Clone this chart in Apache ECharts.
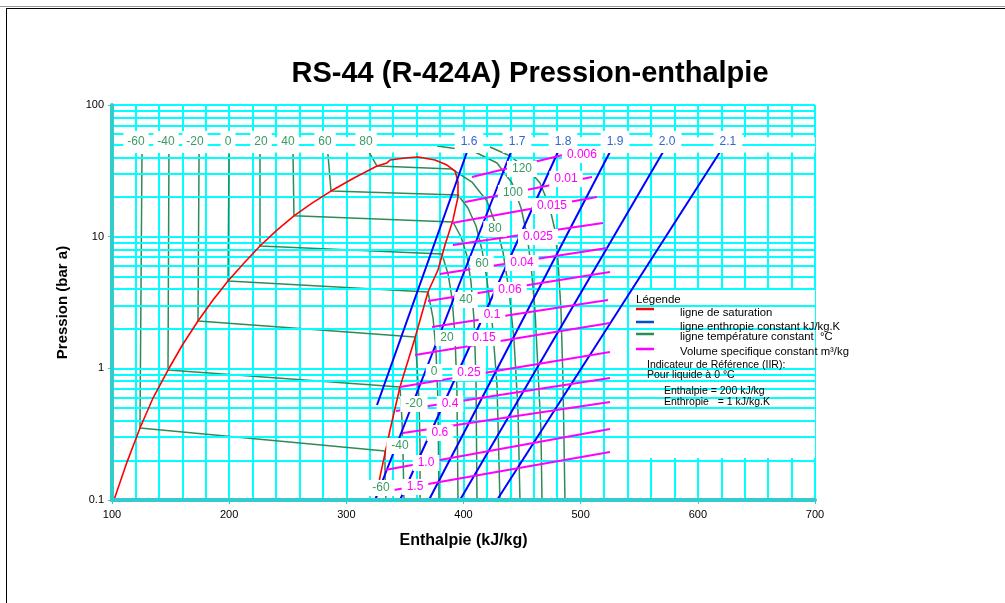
<!DOCTYPE html>
<html><head><meta charset="utf-8">
<script src="https://cdn.jsdelivr.net/npm/echarts/dist/echarts.min.js"></script>
<style>
html,body{margin:0;padding:0;background:#fff;}
#wrap{position:relative;width:1005px;height:603px;overflow:hidden;background:#fff;}
#chart{position:absolute;left:0;top:0;width:1005px;height:603px;}
#topline{position:absolute;left:0;top:6px;width:1005px;height:1px;background:#9a9a9a;}
#frame{position:absolute;left:6px;top:8px;width:1200px;height:800px;border-left:1.5px solid #000;border-top:1.5px solid #000;pointer-events:none;}
</style></head>
<body>
<div id="wrap"><div id="chart"></div><div id="topline"></div><div id="frame"></div></div>
<script>
// ---------------- DATA ----------------
const enthalpyTicks = [100, 200, 300, 400, 500, 600, 700];
const pressureTicks = [0.1, 1, 10, 100];
const pressureGrid = [0.2,0.3,0.4,0.5,0.6,0.7,0.8,0.9,1,2,3,4,5,6,7,8,9,10,20,30,40,50,60,70,80,90,100];

// saturation dome [h kJ/kg, p bar]
const saturation = [[101.7,0.1],[112.8,0.194],[123.9,0.352],[135.0,0.595],[147.8,0.971],[160.6,1.53],[173.4,2.29],[186.2,3.30],[199.0,4.61],[212.7,6.31],[226.3,8.49],[240.8,11.2],[255.3,14.4],[270.7,18.0],[286.9,22.2],[306.5,27.9],[326.2,34.4],[334.7,36.3],[337.3,38.2],[350.1,39.6],[361.2,40.3],[375.7,38.2],[385.9,35.0],[392.8,31.5],[395.3,26.0],[395.3,20.0],[391.0,13.4],[384.2,8.64],[378.2,5.58],[369.7,3.80],[358.6,1.70],[345.8,0.722],[337.3,0.340],[328.7,0.150],[325.3,0.1]];

// isotherms (°C)
const isoM60 = [[125.6,42.44],[123.9,0.352],[333.0,0.2356],[333.0,0.155],[333.8,0.1]];
const isoM40 = [[148.6,42.44],[147.8,0.971],[345.8,0.721],[347.5,0.405],[348.4,0.22],[349.2,0.1]];
const isoM20 = [[174.3,42.44],[173.4,2.29],[358.6,1.729],[360.3,1.06],[362.0,0.575],[362.9,0.262],[362.9,0.1]];
const iso0   = [[199.9,42.44],[199.0,4.61],[369.7,3.80],[374.0,2.41],[376.5,1.378],[378.2,0.575],[379.1,0.1]];
const iso20  = [[226.3,42.44],[226.3,8.49],[381.6,7.38],[386.8,5.21],[390.2,3.42],[392.7,1.79],[394.4,0.685],[395.3,0.1]];
const iso40  = [[254.5,42.44],[255.3,14.4],[391.0,12.92],[397.9,9.94],[403.0,7.13],[406.4,4.53],[409.0,2.33],[410.7,0.815],[411.5,0.1]];
const iso60  = [[284.3,42.44],[286.9,22.2],[395.3,20.72],[403.8,16.51],[410.7,12.05],[415.8,7.92],[420.0,4.69],[424.3,2.33],[428.6,0.747],[431.1,0.1]];
const iso80  = [[319.3,43.95],[326.2,34.4],[390.2,32.65],[407.2,26.01],[420.0,18.66],[427.7,12.26],[433.7,7.65],[438.8,3.93],[443.1,1.641],[446.5,0.483],[448.2,0.1]];
const iso100 = [[377.4,48.8],[408.1,44.74],[428.6,36.27],[441.4,25.56],[449.1,16.51],[454.2,10.29],[457.6,6.09],[461.0,2.77],[463.6,0.971],[466.1,0.340],[467.0,0.1]];
const iso120 = [[422.6,47.97],[438.0,41.71],[454.2,33.22],[465.3,25.56],[473.0,17.40],[478.1,11.23],[480.6,6.65],[483.2,2.77],[484.9,0.815],[486.6,0.1]];

// isentropes (kJ/kg.K)
const s16 = [[403.0,43.95],[326.2,0.5266]];
const s17 = [[440.5,43.95],[324.5,0.1]];
const s18 = [[480.6,43.95],[345.8,0.1]];
const s19 = [[525.0,43.95],[370.5,0.1]];
const s20 = [[570.3,43.95],[397.0,0.1]];
const s21 = [[618.9,43.95],[428.6,0.1]];

// specific volume (m3/kg)
const v0006 = [[407.2,28.39],[484.9,41.71]];
const v001  = [[401.3,18.33],[509.7,28.39]];
const v0015 = [[390.2,12.70],[513.9,20.01]];
const v0025 = [[391.0,8.645],[519.0,12.70]];
const v004  = [[379.9,5.21],[522.5,8.20]];
const v006  = [[369.7,3.246],[525.0,5.39]];
const v01   = [[373.1,2.060],[523.3,3.304]];
const v015  = [[358.6,1.262],[525.0,2.210]];
const v025  = [[345.8,0.721],[525.0,1.331]];
const v04   = [[342.4,0.4742],[525.0,0.8444]];
const v06   = [[348.4,0.3227],[525.0,0.5551]];
const v10   = [[333.0,0.1689],[525.0,0.3461]];
const v15   = [[326.2,0.1130],[525.0,0.2315]];

// labels [text, h, p]
const topIsoLabels = [['-60',120.5,52.35],['-40',146.1,52.35],['-20',170.8,52.35],['0',199.0,52.35],['20',227.2,52.35],['40',250.2,52.35],['60',281.8,52.35],['80',316.8,52.35]];
const topEntropyLabels = [['1.6',404.7,52.35],['1.7',445.7,52.35],['1.8',484.9,52.35],['1.9',529.3,52.35],['2.0',573.7,52.35],['2.1',625.7,52.35]];
const vaporIsoLabels = [['120',449.9,32.65],['100',442.2,21.46],['80',426.9,11.43],['60',415.8,6.20],['40',402.1,3.304],['20',385.9,1.699],['0',374.8,0.938],['-20',357.7,0.536],['-40',345.8,0.2571],['-60',329.6,0.1234]];
const volumeLabels = [['0.006',501.1,41.71],['0.01',487.5,27.41],['0.015',475.5,17.09],['0.025',463.6,9.94],['0.04',449.9,6.31],['0.06',439.7,3.93],['0.1',424.3,2.541],['0.15',417.5,1.699],['0.25',404.7,0.922],['0.4',388.5,0.536],['0.6',379.9,0.3227],['1.0',368.0,0.191],['1.5',358.6,0.1256]];

const legendTexts = ['ligne de saturation','ligne enthropie constant kJ/kg.K','ligne température constant  °C','Volume specifique constant m³/kg'];
const noteTexts = ['Indicateur de Référence (IIR):','Pour liquide à 0 °C','Enthalpie = 200 kJ/kg','Enthropie   = 1 kJ/kg.K'];

// ---------------- STYLE ----------------
const C_RED='#FF0000', C_BLUE='#0000FF', C_GREEN='#2E8B57', C_MAG='#FF00FF', C_GRID='#00FFFF', C_AXIS='#33CCCC';
const C_GREEN_TXT='#3A9A64', C_BLUE_TXT='#3366CC';

function line(data, color, width, z){
  return {type:'line', data:data, showSymbol:false, symbol:'none', silent:true, animation:false,
    lineStyle:{color:color, width:width, opacity:1}, z:z, xAxisIndex:0, yAxisIndex:0};
}
function labels(items, color, z, pad){
  return {type:'scatter', silent:true, animation:false, symbolSize:0, z:z, xAxisIndex:0, yAxisIndex:0,
    itemStyle:{opacity:1, color:'#fff'},
    data: items.map(d=>({name:d[0], value:[d[1], d[2]]})),
    label:{show:true, position:'inside', formatter:'{b}', color:color, fontSize:12, fontFamily:'Arial',
      opacity:1, textBorderWidth:0, backgroundColor:'#fff', padding:pad},
    emphasis:{disabled:true}};
}

const series = [
  {type:'line', data:[], silent:true, z:1, xAxisIndex:0, yAxisIndex:0,
   markLine:{silent:true, symbol:'none', animation:false, label:{show:false},
     lineStyle:{color:C_GRID, width:2, type:'solid', opacity:1},
     data: pressureGrid.map(v=>({yAxis:v}))}},
  {type:'line', data:[], silent:true, z:2, xAxisIndex:0, yAxisIndex:0,
   markArea:{silent:true, animation:false, itemStyle:{color:'#fff', opacity:1},
     data:[[{xAxis:100, yAxis:43.6},{xAxis:700, yAxis:57}],
           [{xAxis:542.5, yAxis:0.208},{xAxis:700, yAxis:3.95}]]}},
  line(saturation, C_RED, 1.6, 5),
  line(isoM60, C_GREEN, 1.5, 4), line(isoM40, C_GREEN, 1.5, 4), line(isoM20, C_GREEN, 1.5, 4),
  line(iso0, C_GREEN, 1.5, 4), line(iso20, C_GREEN, 1.5, 4), line(iso40, C_GREEN, 1.5, 4),
  line(iso60, C_GREEN, 1.5, 4), line(iso80, C_GREEN, 1.5, 4), line(iso100, C_GREEN, 1.5, 4), line(iso120, C_GREEN, 1.5, 4),
  line(s16, C_BLUE, 2, 6), line(s17, C_BLUE, 2, 6), line(s18, C_BLUE, 2, 6),
  line(s19, C_BLUE, 2, 6), line(s20, C_BLUE, 2, 6), line(s21, C_BLUE, 2, 6),
  line(v0006, C_MAG, 2, 7), line(v001, C_MAG, 2, 7), line(v0015, C_MAG, 2, 7), line(v0025, C_MAG, 2, 7),
  line(v004, C_MAG, 2, 7), line(v006, C_MAG, 2, 7), line(v01, C_MAG, 2, 7), line(v015, C_MAG, 2, 7),
  line(v025, C_MAG, 2, 7), line(v04, C_MAG, 2, 7), line(v06, C_MAG, 2, 7), line(v10, C_MAG, 2, 7), line(v15, C_MAG, 2, 7),
  labels(topIsoLabels, C_GREEN_TXT, 20, [5,4]),
  labels(topEntropyLabels, C_BLUE_TXT, 20, [5,6]),
  labels(vaporIsoLabels, C_GREEN_TXT, 20, [2,5]),
  labels(volumeLabels, C_MAG, 21, [2,5])
];

// legend (graphic)
const LX = 636;
const legendGraphic = [
  {type:'text', x:LX, y:300, z:50, style:{text:'Légende', font:'11.5px Arial', fill:'#000', textVerticalAlign:'middle', verticalAlign:'middle'}}
];
const legendColors = [C_RED, '#0050D0', C_GREEN, C_MAG];
const legendLineY = [309, 322, 334, 349];
const legendTextY = [313, 327, 337, 352];
legendTexts.forEach((t,i)=>{
  legendGraphic.push({type:'line', z:50, shape:{x1:LX, y1:legendLineY[i], x2:LX+18, y2:legendLineY[i]}, style:{stroke:legendColors[i], lineWidth:2.5}});
  legendGraphic.push({type:'text', x:680, y:legendTextY[i], z:50, style:{text:t, font:'11.3px Arial', fill:'#000', textVerticalAlign:'middle', verticalAlign:'middle'}});
});
const noteX = [647, 647, 664, 664];
const noteY = [365, 375, 391, 402];
noteTexts.forEach((t,i)=>{
  legendGraphic.push({type:'text', x:noteX[i], y:noteY[i], z:50, style:{text:t, font:'10.5px Arial', fill:'#000', textVerticalAlign:'middle', verticalAlign:'middle'}});
});

const chart = echarts.init(document.getElementById('chart'), null, {renderer:'canvas'});
chart.setOption({
  animation:false,
  backgroundColor:'transparent',
  textStyle:{fontFamily:'Arial'},
  title:{text:'RS-44 (R-424A) Pression-enthalpie', left:530, top:59, textAlign:'center', padding:0,
    textStyle:{fontSize:29, fontWeight:'bold', color:'#000', fontFamily:'Arial'}},
  grid:{left:112, top:105, width:703, height:395, containLabel:false, outerBoundsMode:'none'},
  xAxis:[
    {type:'value', min:100, max:700, interval:20, position:'bottom',
     axisLine:{show:false, onZero:false}, axisTick:{show:false}, axisLabel:{show:false},
     splitLine:{show:true, lineStyle:{color:C_GRID, width:2}}, z:0},
    {type:'value', min:100, max:700, interval:100, position:'bottom',
     axisLine:{show:true, onZero:false, lineStyle:{color:C_AXIS, width:4}},
     axisTick:{show:true, length:4, lineStyle:{color:C_AXIS, width:1}},
     axisLabel:{color:'#000', fontSize:11, margin:9, fontFamily:'Arial',
       formatter:v=> enthalpyTicks.includes(v) ? String(v) : ''},
     splitLine:{show:false},
     name:'Enthalpie (kJ/kg)', nameLocation:'middle', nameGap:33,
     nameTextStyle:{fontWeight:'bold', fontSize:16, color:'#000', fontFamily:'Arial'}, z:10}
  ],
  yAxis:{type:'log', logBase:10, min:0.1, max:100,
     axisLine:{show:true, onZero:false, lineStyle:{color:C_AXIS, width:4}},
     axisTick:{show:true, length:4, lineStyle:{color:C_AXIS, width:1}},
     axisLabel:{color:'#000', fontSize:11, margin:8, fontFamily:'Arial',
       formatter:v=>{ const m = pressureTicks.find(t=>Math.abs(t-v)<1e-9*Math.max(1,t)); return m!==undefined ? String(m) : ''; }},
     splitLine:{show:false}, minorTick:{show:false}, minorSplitLine:{show:false},
     name:'Pression (bar a)', nameLocation:'middle', nameGap:42, nameRotate:90,
     nameTextStyle:{fontWeight:'bold', fontSize:15, color:'#000', fontFamily:'Arial'}, z:10},
  graphic: legendGraphic,
  series: series
});
</script>
</body></html>
